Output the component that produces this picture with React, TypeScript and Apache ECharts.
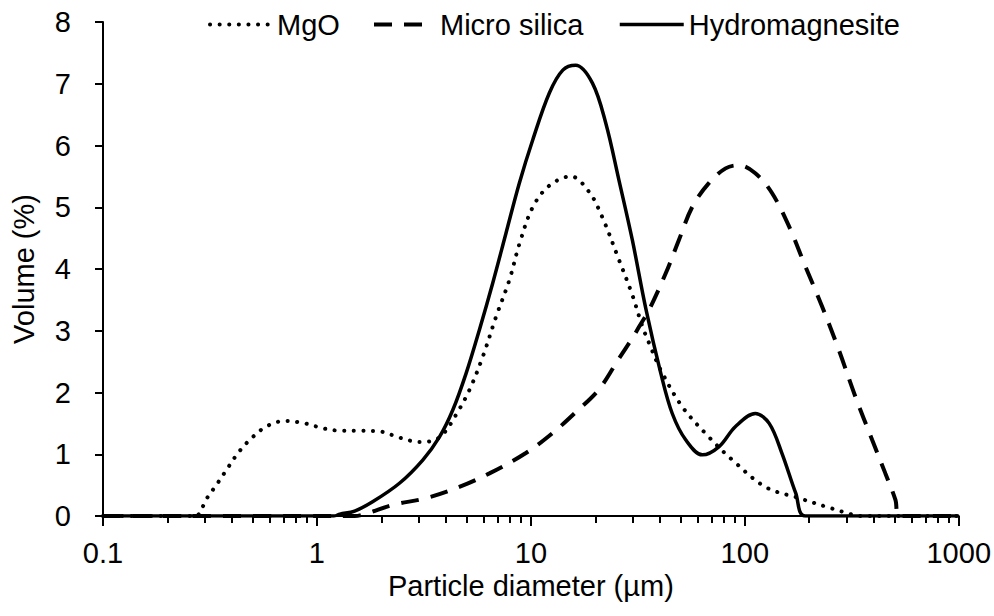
import React, { useEffect, useRef } from "react";
import * as echarts from "echarts";

// Particle size distributions: [diameter (µm), volume (%)]
const mgo: number[][] = [
  [0.1, 0], [0.2, 0], [0.27, 0], [0.305, 0.28], [0.343, 0.53], [0.385, 0.79],
  [0.432, 1.04], [0.498, 1.27], [0.587, 1.46], [0.714, 1.54], [0.877, 1.5],
  [1.07, 1.42], [1.3, 1.38], [1.6, 1.38], [1.96, 1.37], [2.43, 1.27],
  [3.0, 1.2], [3.4, 1.21], [3.87, 1.32], [4.47, 1.64], [5.16, 2.04],
  [5.96, 2.58], [6.88, 3.23], [7.93, 3.82], [8.83, 4.4], [10.2, 5.0],
  [12.2, 5.35], [15.4, 5.5], [18.7, 5.25], [21.5, 4.85], [25.8, 4.15],
  [29.8, 3.58], [33.2, 3.07], [35.7, 2.8], [40.5, 2.36], [51, 1.77],
  [67.9, 1.28], [87.3, 0.91], [125, 0.47], [179, 0.29], [256, 0.12],
  [306, 0.04], [340, 0], [500, 0], [1000, 0],
];

const microSilica: number[][] = [
  [0.1, 0], [1.0, 0], [1.5, 0], [1.7, 0.04], [2.27, 0.18], [3.24, 0.29],
  [4.63, 0.47], [6.4, 0.69], [9.48, 1.02], [12.6, 1.34], [16.2, 1.68],
  [20.8, 2.05], [25.8, 2.55], [29.8, 2.88], [32.1, 3.07], [35.7, 3.34],
  [42.7, 3.93], [49.2, 4.47], [56.9, 5.01], [67.9, 5.39], [81.3, 5.63],
  [93.8, 5.68], [112, 5.55], [134, 5.23], [161, 4.69], [192, 4.04],
  [230, 3.39], [275, 2.69], [329, 1.93], [394, 1.23], [454, 0.69],
  [506, 0.26], [525, 0], [1000, 0],
];

const hydromagnesite: number[][] = [
  [0.1, 0], [1.0, 0], [1.2, 0], [1.28, 0.03], [1.5, 0.08], [1.82, 0.23],
  [2.43, 0.53], [3.13, 0.91], [3.74, 1.28], [4.32, 1.72], [4.98, 2.31],
  [5.74, 3.01], [6.63, 3.77], [7.65, 4.58], [8.83, 5.39], [10.2, 6.09],
  [12.2, 6.85], [14.1, 7.22], [16.2, 7.3], [19.4, 7.01], [22.4, 6.36],
  [25.8, 5.44], [29.8, 4.47], [34.5, 3.35], [40.5, 2.31], [45.8, 1.66],
  [53, 1.23], [63.3, 0.99], [75.6, 1.12], [90.5, 1.45], [112, 1.66],
  [130, 1.5], [149, 1.02], [173, 0.37], [192, 0], [1000, 0],
];

const seriesNames = ["MgO", "Micro silica", "Hydromagnesite"];
const minorTickValues: number[] = [
  0.2, 0.3, 0.4, 0.5, 0.6, 0.7, 0.8, 0.9,
  2, 3, 4, 5, 6, 7, 8, 9,
  20, 30, 40, 50, 60, 70, 80, 90,
  200, 300, 400, 500, 600, 700, 800, 900,
];

const FONT = "'Liberation Sans', Arial, sans-serif";
const FS = 29;

const dotted = { color: "#000", width: 4, type: [0.1, 9.5], cap: "round" };
const dashed = { color: "#000", width: 4, type: [18, 12], cap: "butt" };
const solid = { color: "#000", width: 3.5, type: "solid" };

export default function App() {
  const ref = useRef<HTMLDivElement>(null);

  useEffect(() => {
    if (!ref.current) return;
    const chart = echarts.init(ref.current, null, { renderer: "svg" });

    const legendBase = {
      top: 5,
      itemHeight: 14,
      orient: "horizontal" as const,
      textStyle: { color: "#000", fontSize: FS, fontFamily: FONT },
      itemStyle: { opacity: 0 },
      selectedMode: false,
    };

    chart.setOption({
      animation: false,
      backgroundColor: "#fff",
      textStyle: { fontFamily: FONT },
      grid: {
        left: 103,
        right: 34,
        top: 22,
        bottom: 100,
      },
      legend: [
        { ...legendBase, left: 203, itemWidth: 62, data: [seriesNames[0]], lineStyle: dotted },
        { ...legendBase, left: 367, itemWidth: 51, data: [seriesNames[1]], lineStyle: dashed,
          textStyle: { ...legendBase.textStyle, padding: [0, 0, 0, 10] } },
        { ...legendBase, left: 613, itemWidth: 64, data: [seriesNames[2]], lineStyle: solid },
      ],
      xAxis: [
        {
          type: "log",
          min: 0.1,
          max: 1000,
          name: "Particle diameter (µm)",
          nameLocation: "middle",
          nameGap: 40,
          nameTextStyle: { color: "#000", fontSize: FS, fontFamily: FONT },
          axisLine: { show: true, lineStyle: { color: "#000", width: 2 } },
          axisTick: { show: true, length: 10, lineStyle: { color: "#000", width: 2 } },
          axisLabel: {
            color: "#000",
            fontSize: FS,
            fontFamily: FONT,
            margin: 22,
            formatter: (v: number) => String(Number(v.toPrecision(6))),
          },
          splitLine: { show: false },
        },
        {
          type: "log",
          min: 0.1,
          max: 1000,
          position: "bottom",
          axisLine: { show: false },
          axisLabel: { show: false },
          axisTick: {
            show: true,
            length: 7,
            customValues: minorTickValues,
            lineStyle: { color: "#000", width: 2 },
          },
          splitLine: { show: false },
        },
      ],
      yAxis: {
        type: "value",
        min: 0,
        max: 8,
        interval: 1,
        name: "Volume (%)",
        nameLocation: "middle",
        nameGap: 65,
        nameTextStyle: { color: "#000", fontSize: FS, fontFamily: FONT },
        axisLine: { show: true, lineStyle: { color: "#000", width: 2 } },
        axisTick: { show: true, length: 8, lineStyle: { color: "#000", width: 2 } },
        axisLabel: { color: "#000", fontSize: FS, fontFamily: FONT, margin: 32 },
        splitLine: { show: false },
      },
      series: [
        {
          name: seriesNames[0],
          type: "line",
          data: mgo,
          symbol: "none",
          smooth: 0.35,
          color: "#000",
          lineStyle: dotted,
        },
        {
          name: seriesNames[1],
          type: "line",
          data: microSilica,
          symbol: "none",
          smooth: 0.35,
          color: "#000",
          lineStyle: dashed,
        },
        {
          name: seriesNames[2],
          type: "line",
          data: hydromagnesite,
          symbol: "none",
          smooth: 0.35,
          color: "#000",
          lineStyle: solid,
        },
      ],
    });

    return () => {
      chart.dispose();
    };
  }, []);

  return (
    <div
      ref={ref}
      style={{ position: "absolute", left: 0, top: 0, width: 994, height: 616 }}
    />
  );
}
